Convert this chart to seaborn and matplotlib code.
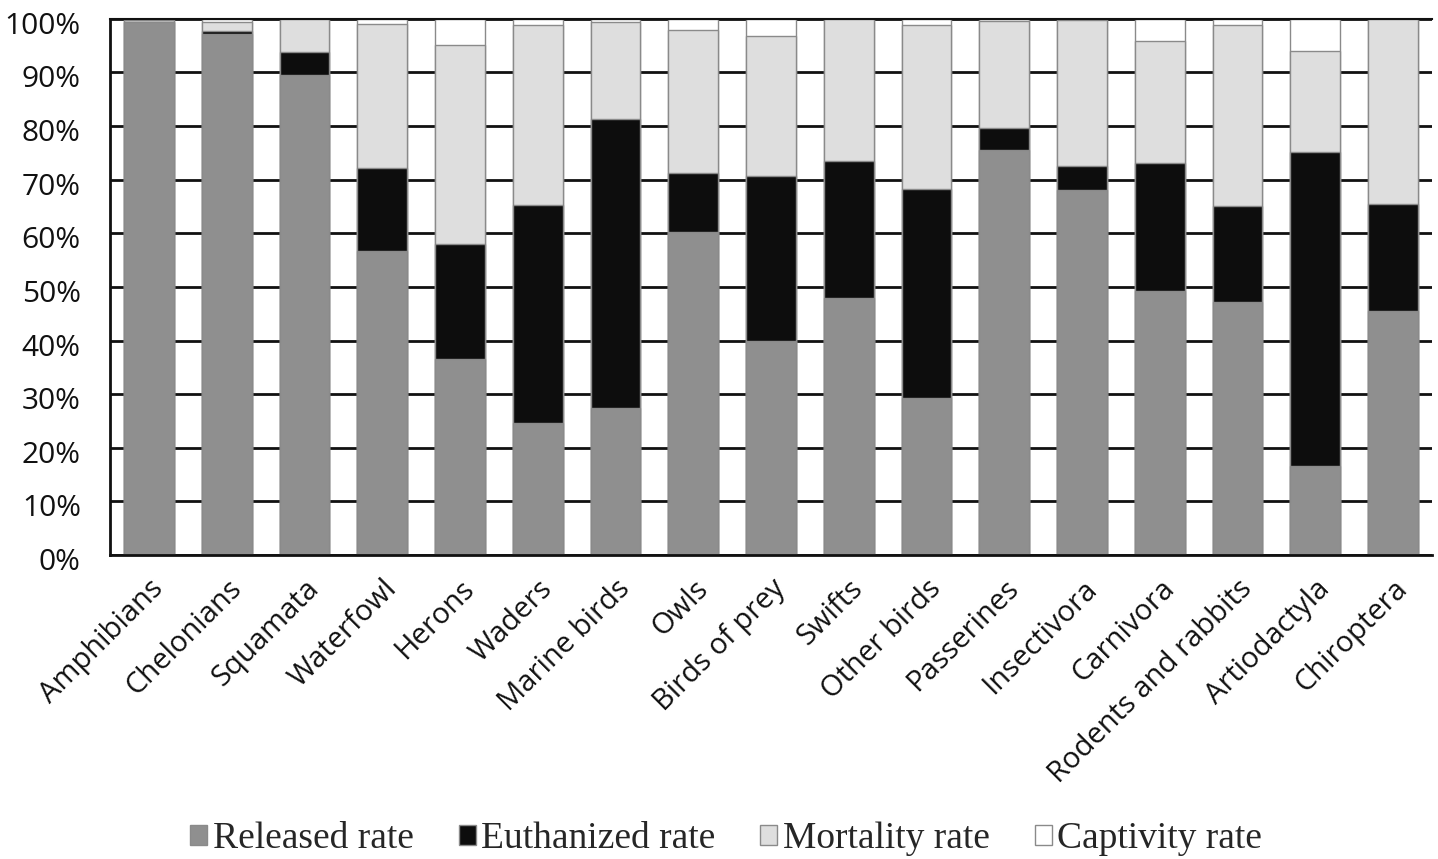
import numpy as np
import pandas as pd
import matplotlib
matplotlib.use("Agg")
import matplotlib.pyplot as plt
from matplotlib.patches import Patch
from matplotlib.transforms import ScaledTranslation
import seaborn as sns

categories = ["Amphibians", "Chelonians", "Squamata", "Waterfowl", "Herons", "Waders",
              "Marine birds", "Owls", "Birds of prey", "Swifts", "Other birds", "Passerines",
              "Insectivora", "Carnivora", "Rodents and rabbits", "Artiodactyla", "Chiroptera"]
released = [99.4, 97.1, 89.5, 56.7, 36.5, 24.6, 27.4, 60.2, 39.9, 47.9, 29.3, 75.6,
            68.0, 49.3, 47.1, 16.6, 45.5]
euthanized = [0.0, 0.6, 4.3, 15.4, 21.5, 40.6, 53.9, 11.0, 30.7, 25.6, 38.9, 4.1,
              4.6, 23.9, 18.0, 58.6, 20.0]
mortality = [0.4, 1.8, 6.2, 27.0, 37.1, 33.7, 18.1, 26.8, 26.2, 26.4, 30.7, 19.9,
             27.2, 22.6, 33.8, 18.9, 34.5]
captivity = [round(100 - r - e - m, 1) for r, e, m in zip(released, euthanized, mortality)]

series_names = ["Released rate", "Euthanized rate", "Mortality rate", "Captivity rate"]
series_colors = ["#8f8f8f", "#0d0d0d", "#dedede", "#ffffff"]
series_values = [released, euthanized, mortality, captivity]
ytick_values = list(range(0, 101, 10))
ytick_labels = [f"{v}%" for v in ytick_values]

sns.set_theme(style="white")
plt.rcParams["font.family"] = ["Open Sans", "DejaVu Sans"]

fig = plt.figure(figsize=(14.38, 8.59), dpi=100)
ax = fig.add_axes([0.0765, 0.354, 0.9193, 0.624])

cum = np.cumsum(np.array(series_values), axis=0)
# draw from top of the stack down so lower segments overlay upper ones
for i in range(len(series_names) - 1, -1, -1):
    df = pd.DataFrame({"category": categories, "value": cum[i]})
    sns.barplot(data=df, x="category", y="value", order=categories, color=series_colors[i],
                saturation=1, width=0.64, edgecolor="#8a8a8a", linewidth=1.0, ax=ax, zorder=2)

ax.set_ylim(0, 100)
ax.set_xlim(-0.5, len(categories) - 0.5)
ax.set_yticks(ytick_values)
ax.set_yticklabels(ytick_labels, fontsize=21.5, color="#111111")
ax.set_xticks(range(len(categories)))
ax.set_xticklabels(categories, rotation=45, ha="right", rotation_mode="anchor",
                   fontsize=21, color="#111111")
ax.tick_params(axis="y", length=0, pad=21)
ax.tick_params(axis="x", length=0, pad=14)
for lab in ax.get_yticklabels():
    lab.set_transform(lab.get_transform() + ScaledTranslation(0, -4 / 100, fig.dpi_scale_trans))
ax.set_xlabel("")
ax.set_ylabel("")
ax.yaxis.grid(True, color="#111111", linewidth=2.0, zorder=0)
ax.set_axisbelow(True)
for side in ["left", "bottom"]:
    ax.spines[side].set_visible(True)
    ax.spines[side].set_color("#111111")
    ax.spines[side].set_linewidth(2.0)
ax.spines["top"].set_visible(True)
ax.spines["top"].set_color("#111111")
ax.spines["top"].set_linewidth(1.5)
ax.spines["right"].set_visible(False)

handles = [Patch(facecolor=c, edgecolor="#8a8a8a", linewidth=1.0) for c in series_colors]
fig.legend(handles, series_names, loc="lower center", bbox_to_anchor=(0.505, -0.036), ncol=4,
           frameon=False, prop={"family": ["Liberation Serif"], "size": 27},
           handlelength=0.45, handleheight=0.45, handletextpad=0.15, columnspacing=1.2)

fig.savefig("out.png", dpi=100)
